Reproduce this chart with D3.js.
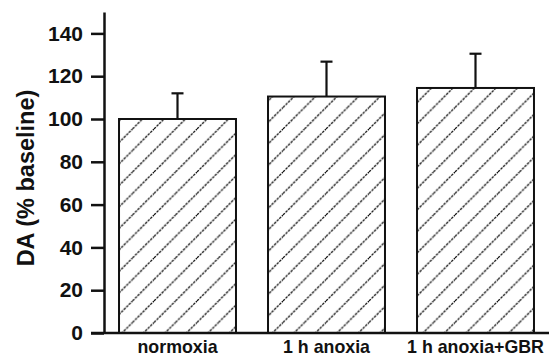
<!DOCTYPE html>
<html>
<head>
<meta charset="utf-8">
<script src="https://cdn.jsdelivr.net/npm/d3@7/dist/d3.min.js"></script>
<style>
  html, body { margin: 0; padding: 0; background: #fff; }
  svg { display: block; font-family: "Liberation Sans", Arial, Helvetica, sans-serif; font-weight: bold; }
</style>
</head>
<body>
<svg id="chart" width="549" height="356"></svg>
<script>
const categories = ["normoxia", "1 h anoxia", "1 h anoxia+GBR"];
const means = [100, 110.5, 114.5];
const errors = [12, 16.3, 16];
const yTicks = [0, 20, 40, 60, 80, 100, 120, 140];
const yTitle = "DA (% baseline)";

const svg = d3.select("#chart");
const ink = "#111";

const y = d3.scaleLinear().domain([0, 150]).range([333, 12]);
const x = d3.scaleBand().domain(categories).range([103, 550])
  .paddingInner(0.215).paddingOuter(0.1075);

// hatch pattern
const P = 21.5;
const defs = svg.append("defs");
const pat = defs.append("pattern")
  .attr("id", "hatch")
  .attr("patternUnits", "userSpaceOnUse")
  .attr("width", P).attr("height", P)
  .attr("x", 3.5).attr("y", 0);
pat.append("rect").attr("width", P).attr("height", P).attr("fill", "#fff");
[[-P, P, 0, 0], [0, P, P, 0], [P, P, 2 * P, 0]].forEach(([x1, y1, x2, y2]) => {
  pat.append("line")
    .attr("x1", x1).attr("y1", y1).attr("x2", x2).attr("y2", y2)
    .attr("stroke", "#111").attr("stroke-width", 1.3)
    .attr("stroke-dasharray", "2.6,1");
});

// bars
svg.append("g").selectAll("rect").data(categories).join("rect")
  .attr("x", d => x(d))
  .attr("y", (d, i) => y(means[i]))
  .attr("width", x.bandwidth())
  .attr("height", (d, i) => y(0) - y(means[i]))
  .attr("fill", "url(#hatch)")
  .attr("stroke", ink)
  .attr("stroke-width", 2);

// error bars
const eb = svg.append("g").attr("stroke", ink).attr("stroke-width", 2.2);
categories.forEach((c, i) => {
  const cx = x(c) + x.bandwidth() / 2;
  eb.append("line").attr("x1", cx).attr("x2", cx)
    .attr("y1", y(means[i])).attr("y2", y(means[i] + errors[i]));
  eb.append("line").attr("x1", cx - 6).attr("x2", cx + 6)
    .attr("y1", y(means[i] + errors[i])).attr("y2", y(means[i] + errors[i]));
});

// y axis
const yAxis = d3.axisLeft(y).tickValues(yTicks).tickSize(13).tickPadding(8).tickSizeOuter(0);
const gy = svg.append("g").attr("transform", "translate(104,0)").call(yAxis);
gy.select(".domain").attr("stroke", ink).attr("stroke-width", 2.5);
gy.selectAll(".tick line").attr("stroke", ink).attr("stroke-width", 2.5);
gy.selectAll(".tick text").attr("fill", ink)
  .style("font-size", "21px").style("font-weight", "bold")
  .attr("font-family", null);

// x axis
const xAxis = d3.axisBottom(x).tickSize(0).tickPadding(0);
const gx = svg.append("g").attr("transform", "translate(0,333)").call(xAxis);
gx.select(".domain").remove();
gx.append("line").attr("x1", 91).attr("x2", 549).attr("y1", 0).attr("y2", 0)
  .attr("stroke", ink).attr("stroke-width", 2.5);
gx.selectAll(".tick text").attr("fill", ink)
  .attr("dy", null).attr("y", 19.5)
  .style("font-size", "17.8px").style("font-weight", "bold")
  .attr("font-family", null);

// y title
svg.append("text")
  .attr("transform", "translate(34,178) rotate(-90)")
  .attr("text-anchor", "middle")
  .attr("fill", ink)
  .style("font-size", "23.5px")
  .text(yTitle);
</script>
</body>
</html>
